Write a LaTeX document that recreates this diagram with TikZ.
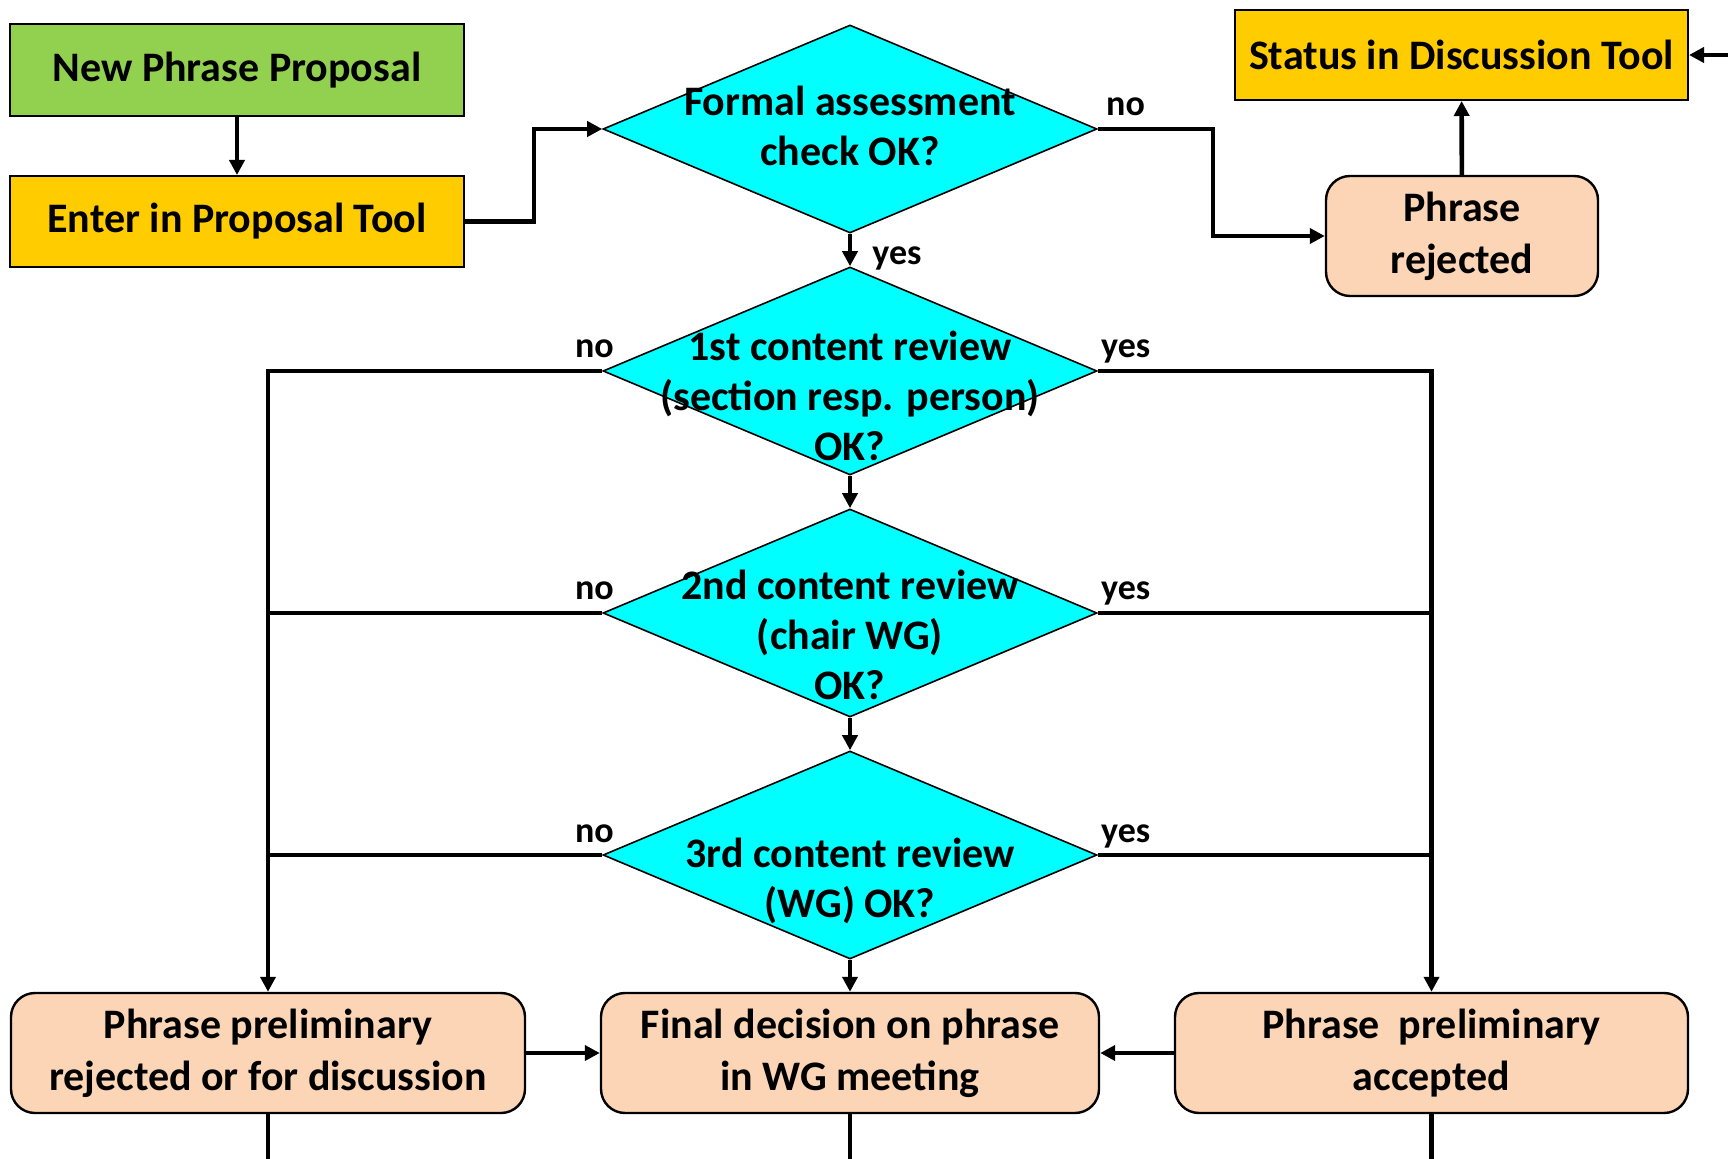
\documentclass[tikz,border=0pt]{standalone}
\usepackage{fontspec}
\setmainfont{Carlito}
\usetikzlibrary{shapes.geometric,arrows.meta}
\definecolor{leaf}{HTML}{92D050}
\definecolor{gold}{HTML}{FFCC00}
\definecolor{aqua}{HTML}{00FFFF}
\definecolor{peach}{HTML}{FBD5B5}

\begin{document}
\begin{tikzpicture}[x=0.5pt, y=-0.5pt,
  >={Triangle[length=7.5pt,width=7.5pt]},
  flow/.style={line width=2.3pt},
  box/.style={draw, line width=1pt, inner sep=0pt, align=center},
  rbox/.style={box, fill=peach, rounded corners=12pt, line width=1.2pt, minimum height=60pt,
    font=\fontsize{21}{26}\selectfont\bfseries},
  dec/.style={draw, diamond, fill=aqua, line width=0.8pt, inner sep=0pt, minimum width=247pt, minimum height=104pt},
  lbl/.style={inner sep=0pt, font=\fontsize{18}{22}\selectfont\bfseries}]

  \fontsize{21}{25}\selectfont\bfseries

  \useasboundingbox (0,0) rectangle (1728,1159);

  %% start boxes
  \node[box, fill=leaf, minimum width=227pt, minimum height=46pt] (new) at (237,70) {New Phrase Proposal};
  \node[box, fill=gold, minimum width=227pt, minimum height=45.5pt] (enter) at (237,221.5) {Enter in Proposal Tool};
  \node[box, fill=gold, minimum width=226.5pt, minimum height=45pt] (status) at (1461.5,55) {Status in Discussion Tool};
  \node[rbox, minimum width=136pt] (rej) at (1462,236) {Phrase\\rejected};

  %% decisions
  \node[dec] (q0) at (850,129) {};
  \node[dec] (q1) at (850,371) {};
  \node[dec] (q2) at (850,613) {};
  \node[dec] (q3) at (850,855) {};
  \node[align=center] (q0t) at ([yshift=1.4pt]q0.center) {Formal assessment\\check OK?};
  \node[align=center] (q1t) at ([yshift=-12.6pt]q1.center) {1st content review\\(section resp. person)\\OK?};
  \node[align=center] (q2t) at ([yshift=-11pt]q2.center) {2nd content review\\(chair WG)\\OK?};
  \node[align=center] (q3t) at ([yshift=-13pt]q3.center) {3rd content review\\(WG) OK?};

  %% end boxes
  \node[rbox, minimum width=257pt] (prej) at (268,1053) {Phrase preliminary\\rejected or for discussion};
  \node[rbox, minimum width=249pt] (final) at (850,1053) {Final decision on phrase\\in WG meeting};
  \node[rbox, minimum width=256.5pt] (pacc) at (1431.5,1053) {Phrase~ preliminary\\accepted};

  \coordinate (side) at (1728,55);
  \coordinate (floor) at (0,1159);

  %% labels
  \node[lbl, anchor=base west] (no0) at ([xshift=4pt,yshift=6.5pt]q0.east) {no};
  \node[lbl, anchor=base west] (yes0) at ([xshift=11pt,yshift=1pt]q1.north) {yes};
  \node[lbl, anchor=base east] (no1) at ([xshift=6pt,yshift=6.5pt]q1.west) {no};
  \node[lbl, anchor=base west] (yes1) at ([xshift=1.5pt,yshift=6.5pt]q1.east) {yes};
  \node[lbl, anchor=base east] (no2) at ([xshift=6pt,yshift=6.5pt]q2.west) {no};
  \node[lbl, anchor=base west] (yes2) at ([xshift=1.5pt,yshift=6.5pt]q2.east) {yes};
  \node[lbl, anchor=base east] (no3) at ([xshift=6pt,yshift=6.5pt]q3.west) {no};
  \node[lbl, anchor=base west] (yes3) at ([xshift=1.5pt,yshift=6.5pt]q3.east) {yes};

  %% connectors
  \draw[flow,->] (new) -- (enter);
  \draw[flow,->] (enter.east) -- ++(69,0) |- (q0.west);
  \draw[flow,->] (q0.east) -- ++(115,0) |- (rej.west); % no
  \draw[flow,->] (rej) -- (status);
  \draw[flow,->] (side) -- (status.east);

  \draw[flow,->] (q0) -- (q1); % yes
  \draw[flow,->] (q1) -- (q2);
  \draw[flow,->] (q2) -- (q3);
  \draw[flow,->] (q3) -- (final);

  \draw[flow,->] (q1.west) -| (prej.north); %% no
  \draw[flow] (q2.west) -- (q2.west -| prej.north);
  \draw[flow] (q3.west) -- (q3.west -| prej.north);
  \draw[flow,->] (q1.east) -| (pacc.north); %% yes
  \draw[flow] (q2.east) -- (q2.east -| pacc.north);
  \draw[flow] (q3.east) -- (q3.east -| pacc.north);

  \draw[flow,->] (prej) -- (final);
  \draw[flow,->] (pacc) -- (final);

  \draw[flow] (prej.south) -- (prej.south |- floor);
  \draw[flow] (final.south) -- (final.south |- floor);
  \draw[flow] (pacc.south) -- (pacc.south |- floor);
\end{tikzpicture}
\end{document}
